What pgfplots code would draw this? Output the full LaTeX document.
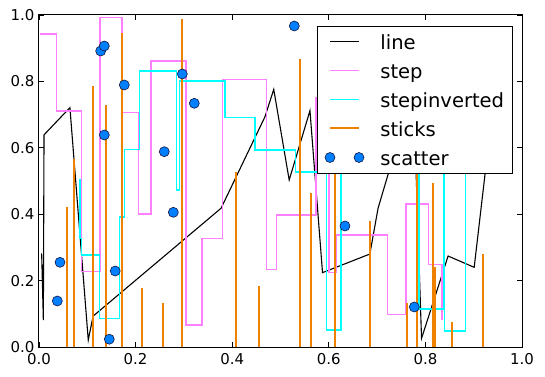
\documentclass[border=0pt]{standalone}
\usepackage{pgfplots}
\pgfplotsset{compat=1.18}
\usepackage{fontspec}
\setmainfont{DejaVu Sans}
\pgfplotsset{
  linelegend/.style={legend image code/.code={\draw[##1] (0bp,0bp) -- (29bp,0bp);}},
  dotlegend/.style={legend image code/.code={\draw[##1] plot coordinates {(0bp,0bp) (29bp,0bp)};}},
}
\begin{document}
\begin{tikzpicture}
\useasboundingbox (-39bp,-30bp) rectangle (506bp,347bp);
\begin{axis}[
  at={(0,0)}, anchor=south west,
  scale only axis, width=483bp, height=332bp,
  xmin=0, xmax=1, ymin=0, ymax=1,
  xtick={0,0.2,0.4,0.6,0.8,1}, ytick={0,0.2,0.4,0.6,0.8,1},
  xticklabels={0.0,0.2,0.4,0.6,0.8,1.0}, yticklabels={0.0,0.2,0.4,0.6,0.8,1.0},
  tick label style={font=\fontsize{15}{18}\selectfont},
  xticklabel style={yshift=-2.5bp},
  yticklabel style={xshift=-1bp},
  major tick length=5bp,
  tick style={black, line width=0.8bp},
  axis line style={line width=1bp},
  tick align=inside,
  xtick pos=both, ytick pos=both,
  legend cell align=left,
  legend style={
    at={(1,1)}, anchor=north east, xshift=-9.7bp, yshift=-10.7bp,
    draw=black, fill=white,
    inner xsep=8bp, inner ysep=4bp,
    font=\fontsize{19.6}{20}\selectfont,
    row sep=5.8bp, column sep=16.4bp,
    nodes={inner sep=0pt, text height=19.2bp, text depth=4bp},
  },
]
\addplot[color={rgb,255:red,0;green,0;blue,0}, line width=1.1bp, mark=none, linelegend] coordinates {
(0.0055,0.282) (0.009,0.081) (0.0104,0.639) (0.064,0.721) (0.102,0.021) (0.112,0.093)
(0.377,0.418) (0.468,0.694) (0.486,0.776) (0.518,0.503) (0.561,0.712) (0.587,0.224)
(0.685,0.280) (0.702,0.418) (0.775,0.777) (0.792,0.026) (0.847,0.274) (0.901,0.240)
(0.932,0.627)
};
\addlegendentry{line}
\addplot[color={rgb,255:red,255;green,128;blue,255}, line width=1.5bp, mark=none, const plot mark left, linelegend] coordinates {
(0.002,0.943) (0.0366,0.711) (0.0884,0.227) (0.126,0.993) (0.172,0.706) (0.206,0.400)
(0.232,0.861) (0.304,0.066) (0.337,0.327) (0.380,0.806) (0.471,0.234) (0.492,0.398)
(0.573,0.750) (0.600,0.224) (0.615,0.337) (0.722,0.098) (0.760,0.430) (0.806,0.249)
(0.834,0.081)
};
\addlegendentry{step}
\addplot[color={rgb,255:red,0;green,255;blue,255}, line width=1.5bp, mark=none, const plot mark right, linelegend] coordinates {
(0.0849,0.506) (0.0884,0.327) (0.1248,0.277) (0.1663,0.0865) (0.1766,0.392) (0.2077,0.595)
(0.2851,0.831) (0.2905,0.473) (0.3851,0.801) (0.4472,0.692) (0.5315,0.593) (0.5957,0.527)
(0.6253,0.051) (0.7867,0.700) (0.8371,0.114) (0.8391,0.750) (0.8826,0.048) (0.930,0.700)
};
\addlegendentry{stepinverted}
\addplot[color={rgb,255:red,238;green,130;blue,0}, line width=2bp, mark=none, ycomb, linelegend] coordinates {
(0.0573,0.421) (0.0731,0.565) (0.1124,0.786) (0.1381,0.729) (0.1725,0.945) (0.2139,0.177)
(0.2574,0.134) (0.2954,0.988) (0.4089,0.528) (0.4561,0.184) (0.5404,0.867) (0.5631,0.463)
(0.6135,0.620) (0.6843,0.380) (0.7613,0.134) (0.7832,0.900) (0.8164,0.493) (0.8205,0.240)
(0.8545,0.076) (0.9199,0.280)
};
\addlegendentry{sticks}
\addplot[only marks, mark=*, mark size=5bp,
  mark options={fill={rgb,255:red,0;green,128;blue,255}, draw={rgb,255:red,20;green,20;blue,60}, line width=0.6bp}, dotlegend] coordinates {
(0.0379,0.1386) (0.0435,0.2551) (0.1277,0.8916) (0.1352,0.9066) (0.1352,0.6386)
(0.1455,0.0235) (0.1578,0.2289) (0.1766,0.7892) (0.2594,0.5883) (0.2781,0.4057)
(0.2967,0.8223) (0.3215,0.7340) (0.5286,0.9669) (0.6335,0.3645) (0.7770,0.1205)
};
\addlegendentry{scatter}
\end{axis}
\end{tikzpicture}
\end{document}
